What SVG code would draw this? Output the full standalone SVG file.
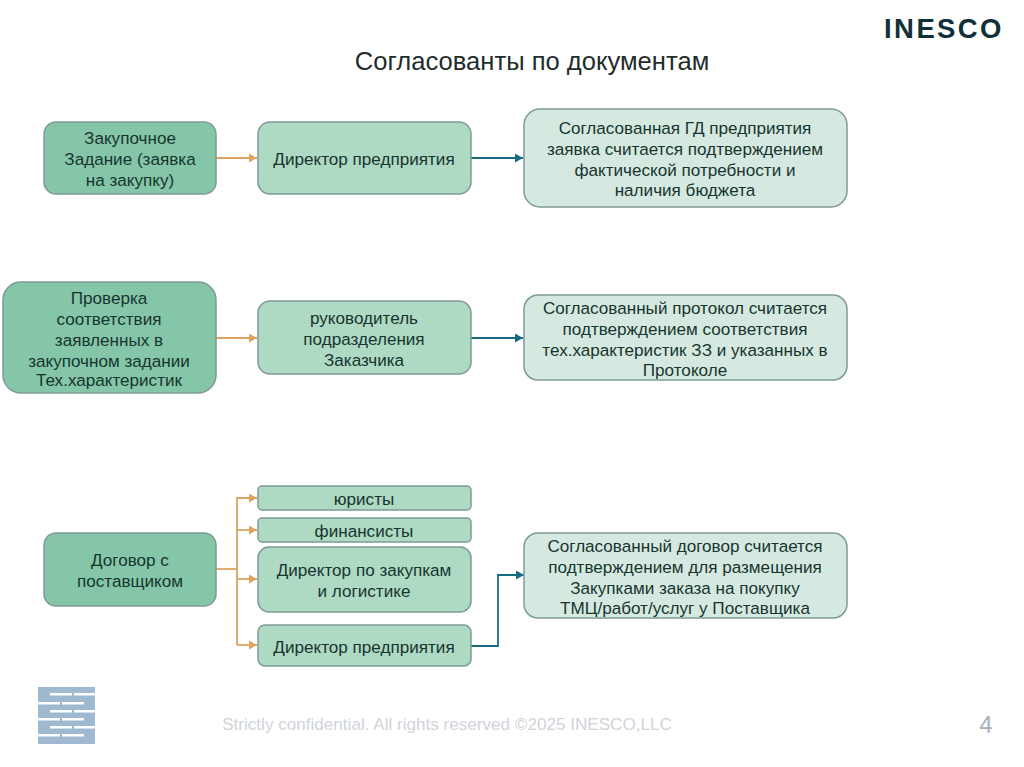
<svg xmlns="http://www.w3.org/2000/svg" width="1024" height="767" viewBox="0 0 1024 767">
<defs>
<marker id="ao" markerUnits="userSpaceOnUse" markerWidth="9" markerHeight="9" refX="8" refY="4.5" orient="auto"><path d="M0 0L8 4.5L0 9Z" fill="#dca45f"/></marker>
<marker id="ab" markerUnits="userSpaceOnUse" markerWidth="9" markerHeight="9" refX="8" refY="4.5" orient="auto"><path d="M0 0L8 4.5L0 9Z" fill="#156a84"/></marker>
</defs>
<style>
text{font-family:"Liberation Sans",Arial,sans-serif;font-size:17.1px;fill:#17352f;text-anchor:middle}
g[id^=n] text{transform:translateY(.6px)}
.n{stroke:#7f9a96;stroke-width:1.5}
.a{fill:#85c6a8}
.b{fill:#aed9c3}
.c{fill:#d5e9e0}
.o{fill:none;stroke:#dca45f;stroke-width:1.8}
.t{fill:none;stroke:#156a84;stroke-width:1.8}
.w{fill:#fff}
</style>
<rect width="1024" height="767" fill="#fff"/>
<text x="532" y="70" style="font-size:25.6px;fill:#1f2d2d">Согласованты по документам</text>
<text x="944" y="38" style="font-size:27.5px;font-weight:bold;letter-spacing:2.4px;fill:#10303a">INESCO</text>

<g id="connectors">
<path class="o" d="M216 158H257" marker-end="url(#ao)"/>
<path class="t" d="M471 158H523" marker-end="url(#ab)"/>
<path class="o" d="M216 338H257" marker-end="url(#ao)"/>
<path class="t" d="M471 338H523" marker-end="url(#ab)"/>
<path class="o" d="M216 569H237"/>
<path class="o" d="M237 645V498H257" marker-end="url(#ao)"/>
<path class="o" d="M237 530H257" marker-end="url(#ao)"/>
<path class="o" d="M237 579H257" marker-end="url(#ao)"/>
<path class="o" d="M237 645H257" marker-end="url(#ao)"/>
<path class="t" d="M471 646H498V575H524" marker-end="url(#ab)"/>
</g>

<g id="n1"><rect class="n a" x="44" y="122" width="172" height="72" rx="12"/>
<text x="130" y="143">Закупочное</text><text x="130" y="164">Задание (заявка</text><text x="130" y="185">на закупку)</text></g>
<g id="n2"><rect class="n b" x="258" y="122" width="213" height="72" rx="12"/>
<text x="364" y="164">Директор предприятия</text></g>
<g id="n3"><rect class="n c" x="524" y="109" width="323" height="98" rx="16"/>
<text x="685" y="133">Согласованная ГД предприятия</text><text x="685" y="154">заявка считается подтверждением</text><text x="685" y="175">фактической потребности и</text><text x="685" y="195">наличия бюджета</text></g>

<g id="n4"><rect class="n a" x="3" y="282" width="213" height="111" rx="18"/>
<text x="109" y="303">Проверка</text><text x="109" y="324">соответствия</text><text x="109" y="345">заявленных в</text><text x="109" y="366">закупочном задании</text><text x="109" y="385">Тех.характеристик</text></g>
<g id="n5"><rect class="n b" x="258" y="301" width="213" height="73" rx="12"/>
<text x="364" y="323">руководитель</text><text x="364" y="344">подразделения</text><text x="364" y="365">Заказчика</text></g>
<g id="n6"><rect class="n c" x="524" y="295" width="323" height="85" rx="14"/>
<text x="685" y="313">Согласованный протокол считается</text><text x="685" y="334">подтверждением соответствия</text><text x="685" y="355">тех.характеристик ЗЗ и указанных в</text><text x="685" y="375">Протоколе</text></g>

<g id="n7"><rect class="n a" x="44" y="533" width="172" height="73" rx="12"/>
<text x="130" y="565">Договор с</text><text x="130" y="586">поставщиком</text></g>
<g id="n8"><rect class="n b" x="258" y="486" width="213" height="24" rx="4"/>
<text x="364" y="504">юристы</text></g>
<g id="n9"><rect class="n b" x="258" y="518" width="213" height="24" rx="4"/>
<text x="364" y="536">финансисты</text></g>
<g id="n10"><rect class="n b" x="258" y="547" width="213" height="65" rx="11"/>
<text x="364" y="575">Директор по закупкам</text><text x="364" y="596">и логистике</text></g>
<g id="n11"><rect class="n b" x="258" y="625" width="213" height="41" rx="7"/>
<text x="364" y="652">Директор предприятия</text></g>
<g id="n12"><rect class="n c" x="524" y="533" width="323" height="85" rx="14"/>
<text x="685" y="551">Согласованный договор считается</text><text x="685" y="572">подтверждением для размещения</text><text x="685" y="593">Закупками заказа на покупку</text><text x="685" y="613">ТМЦ/работ/услуг у Поставщика</text></g>

<g id="logo">
<rect x="38" y="687" width="57" height="57" fill="#9fbad0"/>
<rect class="w" x="50" y="693" width="22" height="2.5"/><rect class="w" x="74" y="693" width="21" height="2.5"/>
<rect class="w" x="38" y="702" width="22" height="2.5"/><rect class="w" x="62" y="702" width="22" height="2.5"/>
<rect class="w" x="50" y="710" width="22" height="2.5"/><rect class="w" x="74" y="710" width="21" height="2.5"/>
<rect class="w" x="38" y="718" width="22" height="2.5"/><rect class="w" x="62" y="718" width="22" height="2.5"/>
<rect class="w" x="50" y="726" width="22" height="2.5"/><rect class="w" x="74" y="726" width="21" height="2.5"/>
<rect class="w" x="38" y="734" width="22" height="2.5"/><rect class="w" x="62" y="734" width="22" height="2.5"/>
</g>
<text x="447" y="730" style="font-size:17.1px;fill:#d0d4da">Strictly confidential. All rights reserved ©2025 INESCO,LLC</text>
<text x="986" y="733" style="font-size:24px;fill:#a9b0bc">4</text>
</svg>
